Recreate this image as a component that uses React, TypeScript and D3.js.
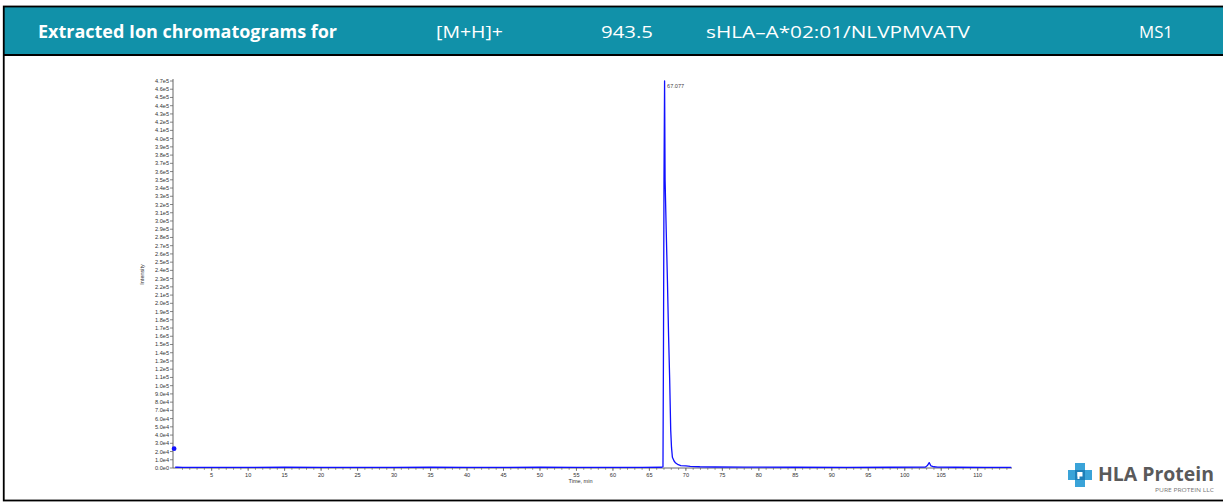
import React from "react";
import * as d3 from "d3";

const headerTexts = ["Extracted Ion chromatograms for", "[M+H]+", "943.5", "sHLA–A*02:01/NLVPMVATV", "MS1"];
const headerX = [38, 436, 601, 706, 1139];
const headerW = [299, 67, 52, 264, 34];

const times = [0.0, 0.3, 1, 5, 10, 15, 20, 25, 30, 35, 40, 45, 50, 55, 60, 64, 66.7, 66.86, 66.93, 67.0, 67.08, 67.15, 67.3, 67.47, 67.63, 67.78, 67.92, 68.03, 68.15, 68.38, 68.6, 68.95, 69.3, 70, 70.6, 71.9, 74, 78, 85, 92, 98, 102.8, 103.1, 103.35, 103.6, 104, 104.5, 107, 111, 114.6];
const intensities = [900, 900, 700, 800, 700, 900, 800, 700, 800, 900, 700, 800, 900, 800, 700, 800, 900, 1500, 150000, 350000, 470000, 350000, 290000, 228000, 160000, 107000, 46000, 25000, 13000, 8500, 6000, 4000, 3000, 2500, 2000, 1500, 1200, 1000, 900, 800, 900, 1000, 3000, 6500, 2500, 1500, 1000, 900, 800, 700];

const startMarkerTime = [-0.15];
const startMarkerValue = [23500];

const peakLabel = "67.077";
const peakTime = 67.08;
const peakValue = 470000;

const xTickValues = [5, 10, 15, 20, 25, 30, 35, 40, 45, 50, 55, 60, 65, 70, 75, 80, 85, 90, 95, 100, 105, 110];
const yMax = 470000;
const yStep = 10000;

const xDomain = [-0.3, 114.7];

function fmtY(v: number) {
  if (v === 0) return "0.0e0";
  const e = Math.floor(Math.log10(v) + 1e-9);
  const m = v / Math.pow(10, e);
  return m.toFixed(1) + "e" + e;
}

export default function App() {
  const left = 173;
  const right = 1012;
  const x = d3.scaleLinear().domain(xDomain).range([left, right]);
  const y = d3.scaleLinear().domain([0, yMax]).range([468, 81]);

  const yTicks = d3.range(0, yMax + 1, yStep);
  const minorX = d3.range(1, 115, 1);

  const pts = times.map((t, i) => [t, intensities[i]] as [number, number]);
  const line = d3.line<[number, number]>().x((d) => x(d[0])).y((d) => y(d[1]));

  const tickFont = "Arial, 'Liberation Sans', sans-serif";
  const axisColor = "#666";

  return (
    <div style={{ position: "absolute", left: 0, top: 0 }}>
      <svg width={1223} height={503} style={{ display: "block" }}>
        <rect x={0} y={0} width={1223} height={503} fill="#fff" />
        {/* header band */}
        <rect x={4} y={7} width={1230} height={48} fill="#1191a9" />
        <rect x={3.75} y={6.5} width={1240} height={494} fill="none" stroke="#000" strokeWidth={1.8} />
        <line x1={3} x2={1223} y1={55} y2={55} stroke="#000" strokeWidth={2} />
        {headerTexts.map((t, i) => (
          <text
            key={i}
            x={headerX[i]}
            y={38}
            fill="#fff"
            fontFamily="'Open Sans', 'Noto Sans', sans-serif"
            fontWeight={i === 0 ? 700 : 500}
            fontSize={17}
            textLength={headerW[i]}
            lengthAdjust="spacingAndGlyphs"
          >
            {t}
          </text>
        ))}

        {/* y axis */}
        <line x1={left} x2={left} y1={y(yMax) - 2} y2={y(0)} stroke={axisColor} strokeWidth={1} />
        {yTicks.map((v) => (
          <g key={v}>
            <line x1={left - 3} x2={left} y1={y(v)} y2={y(v)} stroke={axisColor} strokeWidth={0.8} />
            <text x={left - 4} y={y(v) + 2} textAnchor="end" fontSize={5.6} fill="#333" fontFamily={tickFont}>
              {fmtY(v)}
            </text>
          </g>
        ))}
        <text
          transform={`translate(144,${(y(0) + y(yMax)) / 2}) rotate(-90)`}
          textAnchor="middle"
          fontSize={5.5}
          fill="#333"
          fontFamily={tickFont}
        >
          Intensity
        </text>

        {/* x axis */}
        <line x1={left} x2={right} y1={y(0)} y2={y(0)} stroke={axisColor} strokeWidth={1} />
        {minorX.map((v) => (
          <line key={v} x1={x(v)} x2={x(v)} y1={y(0)} y2={y(0) + 1.8} stroke={axisColor} strokeWidth={0.7} />
        ))}
        {xTickValues.map((v) => (
          <g key={v}>
            <line x1={x(v)} x2={x(v)} y1={y(0)} y2={y(0) + 3} stroke={axisColor} strokeWidth={0.8} />
            <text x={x(v)} y={y(0) + 9} textAnchor="middle" fontSize={5.6} fill="#333" fontFamily={tickFont}>
              {v}
            </text>
          </g>
        ))}
        <text x={(left + right) / 2 - 12} y={483} textAnchor="middle" fontSize={5.5} fill="#333" fontFamily={tickFont}>
          Time, min
        </text>

        {/* trace */}
        <path d={line(pts) || ""} fill="none" stroke="#1010ff" strokeWidth={1.3} strokeLinejoin="round" />
        {startMarkerTime.map((t, i) => (
          <circle key={i} cx={x(t)} cy={y(startMarkerValue[i])} r={2.4} fill="#1010ff" />
        ))}
        <text x={x(peakTime) + 2.5} y={y(peakValue) + 7} fontSize={5.6} fill="#444" fontFamily={tickFont}>
          {peakLabel}
        </text>

        {/* logo */}
        <g transform="translate(1068,463)">
          <rect x={7} y={0} width={10} height={24} fill="#3aa3d8" />
          <rect x={0} y={7} width={24} height={10} fill="#3aa3d8" />
          <rect x={7} y={7} width={10} height={10} fill="#1e7fb8" />
          <rect x={9.5} y={9} width={5} height={4.5} fill="#fff" />
          <rect x={9.5} y={9} width={2} height={7} fill="#fff" />
        </g>
        <text x={1098} y={481} fontSize={20} fontWeight={700} fill="#5a5a5a" fontFamily="'Open Sans', 'Noto Sans', sans-serif" textLength={116} lengthAdjust="spacingAndGlyphs">
          HLA Protein
        </text>
        <text x={1214} y={492} textAnchor="end" fontSize={5} fill="#777" fontFamily="'Open Sans', sans-serif" textLength={59} lengthAdjust="spacingAndGlyphs">
          PURE PROTEIN LLC
        </text>
      </svg>
    </div>
  );
}
